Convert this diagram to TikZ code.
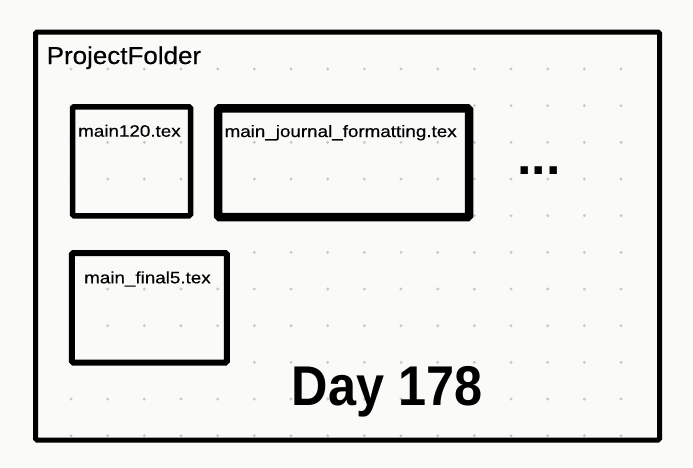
\documentclass[tikz,border=0pt]{standalone}
\usepackage{fontspec}
\setmainfont{Liberation Sans}
\newfontfamily\fileFont{Liberation Sans}[FakeStretch=1.14, FakeBold=0.4]
\newfontfamily\folderFont{Liberation Sans}[FakeStretch=1.06, FakeBold=0.4]
\newfontfamily\dayFont{Liberation Sans}[FakeStretch=0.9]
\definecolor{paper}{RGB}{250,250,249}
\definecolor{dotGray}{RGB}{200,200,200}
\begin{document}
\begin{tikzpicture}
        [x=1pt, y=-1pt,
        box/.style={rectangle, draw, line width=5.5pt, rounded corners=1.5pt, inner sep=0pt},
        boxBold/.style={rectangle, draw, line width=8.5pt, rounded corners=1.5pt, inner sep=0pt},
        fileName/.style={anchor=base west, inner sep=0pt, font=\fileFont\fontsize{16.5}{16.5}\selectfont}]
        \fill[paper] (0,0) rectangle (693,467);
        \useasboundingbox (0,0) rectangle (693,467);
        \foreach \i in {0,...,15}
            \foreach \j in {0,...,10}
                \fill[dotGray] ({71+\i*36.67},{69+\j*36.67}) circle (1.6pt);

        \node[box, line width=5pt, minimum width=624pt, minimum height=408pt] (folder) at (347.5,236) {};
        \node[anchor=base west, inner sep=0pt, font=\folderFont\fontsize{24.5}{24.5}\selectfont] (folderName) at (46.5,64) {ProjectFolder};

        \node[box, minimum width=118pt, minimum height=109pt] (A) at (131.5,161.3) {};
        \node[boxBold, minimum width=251pt, minimum height=108.7pt] (B) at (343.5,162.8) {};
        \node[box, line width=6pt, minimum width=155pt, minimum height=109.5pt] (C) at (149.4,307.8) {};

        \node[fileName] (nameA) at (78,136.7) {main120.tex};
        \node[fileName] (nameB) at (224.4,137) {main\_journal\_formatting.tex};
        \node[fileName] (nameC) at (84,283.3) {main\_final5.tex};

        \node[anchor=base west, inner sep=0pt, font=\bfseries\fontsize{52}{52}\selectfont] (more) at (517,174.6) {...};
        \node[anchor=base west, inner sep=0pt, font=\dayFont\bfseries\fontsize{56}{56}\selectfont] (day) at (291.5,405) {Day 178};
    \end{tikzpicture}
\end{document}
